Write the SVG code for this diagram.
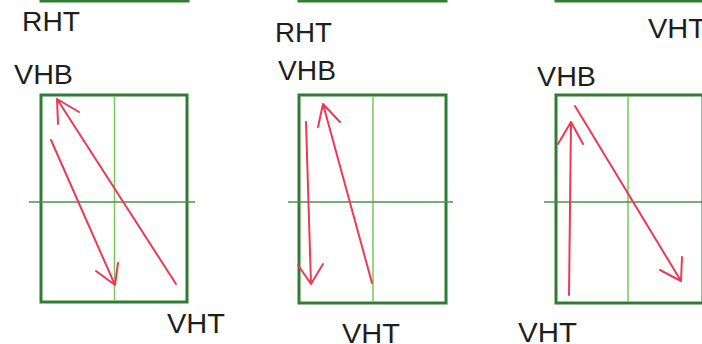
<svg xmlns="http://www.w3.org/2000/svg" width="702" height="344" viewBox="0 0 702 344">
<style>
.frame{fill:none;stroke:#2e7d32;stroke-width:3}
.vline{stroke:#7cc45e;stroke-width:1.5}
.hline{stroke:#4f8f4f;stroke-width:1.5}
.arr{fill:none;stroke:#ec3a55;stroke-width:2;stroke-linecap:round;stroke-linejoin:round}
.lbl{font-family:"Liberation Sans",Arial,sans-serif;font-size:27px;fill:#1e1e1e}
</style>
<rect width="702" height="344" fill="#ffffff"/>
<g id="panel1">
<rect class="frame" x="41" y="-207" width="147" height="208"/>
<rect class="frame" x="41" y="95" width="146" height="207"/>
<line class="vline" x1="114.5" y1="96" x2="114.5" y2="301"/>
<line class="hline" x1="29" y1="202" x2="195" y2="202"/>
<text class="lbl" x="22" y="31" textLength="58" lengthAdjust="spacingAndGlyphs">RHT</text>
<text class="lbl" x="14" y="84" textLength="59" lengthAdjust="spacingAndGlyphs">VHB</text>
<text class="lbl" x="167" y="333" textLength="58" lengthAdjust="spacingAndGlyphs">VHT</text>
</g>
<g id="panel2">
<rect class="frame" x="299" y="-207" width="147" height="208"/>
<rect class="frame" x="299" y="95" width="147" height="208"/>
<line class="vline" x1="373" y1="96" x2="373" y2="302"/>
<line class="hline" x1="288" y1="202" x2="453" y2="202"/>
<text class="lbl" x="275" y="42" textLength="57" lengthAdjust="spacingAndGlyphs">RHT</text>
<text class="lbl" x="278" y="80" textLength="58" lengthAdjust="spacingAndGlyphs">VHB</text>
<text class="lbl" x="342" y="343" textLength="58" lengthAdjust="spacingAndGlyphs">VHT</text>
</g>
<g id="panel3">
<rect class="frame" x="556" y="-207" width="147" height="208"/>
<rect class="frame" x="556" y="95" width="147" height="208"/>
<line class="vline" x1="628" y1="96" x2="628" y2="302"/>
<line class="hline" x1="544" y1="202" x2="702" y2="202"/>
<text class="lbl" x="648" y="38" textLength="58" lengthAdjust="spacingAndGlyphs">VHT</text>
<text class="lbl" x="537" y="86" textLength="59" lengthAdjust="spacingAndGlyphs">VHB</text>
<text class="lbl" x="518" y="342" textLength="59" lengthAdjust="spacingAndGlyphs">VHT</text>
</g>
<g id="connectors">
<path class="arr" d="M176,284 L57,99 M58,124 L57,99 L79,112"/>
<path class="arr" d="M51,140 L115,285 M96,271 L115,285 L118,263"/>
<path class="arr" d="M306,122 L311,284 M298,265 L311,284 L323,264"/>
<path class="arr" d="M372,283 L323,104 M318,127 L323,104 L340,122"/>
<path class="arr" d="M569,295 L571,122 M558,144 L571,122 L583,144"/>
<path class="arr" d="M575,106 L681,281 M660,270 L681,281 L682,257"/>
</g>
</svg>
